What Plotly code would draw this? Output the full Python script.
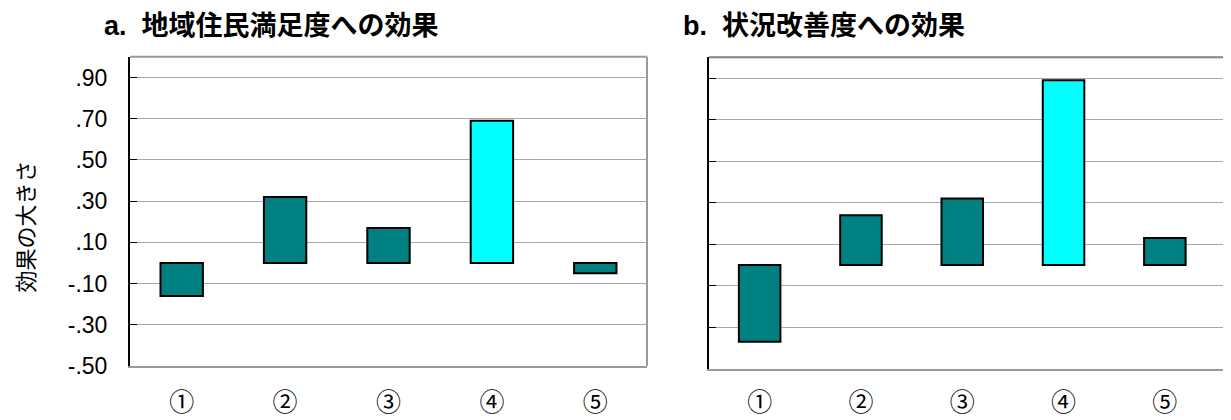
import plotly.graph_objects as go

categories = ["①", "②", "③", "④", "⑤"]
values_a = [-0.16, 0.32, 0.17, 0.69, -0.05]
values_b = [-0.37, 0.24, 0.32, 0.89, 0.13]
highlight = [False, False, False, True, False]
ytick_vals = [-0.5, -0.3, -0.1, 0.1, 0.3, 0.5, 0.7, 0.9]
ytick_text = ["-.50", "-.30", "-.10", ".10", ".30", ".50", ".70", ".90"]
title_a = "a.  地域住民満足度への効果"
title_b = "b.  状況改善度への効果"
y_title = "効果の大きさ"

TEAL = "#008080"
CYAN = "#00FFFF"
colors = [CYAN if h else TEAL for h in highlight]
xpos = list(range(len(categories)))

W, H = 1231, 420
OX = 8
OY, SY = 9.1, 0.966  # observed vertical mapping of the page


def px(x):
    return (x - OX) / W


def py(y):
    return 1 - ((y - OY) / SY) / H


dom_a_x = [px(130), px(647)]
dom_b_x = [px(709), 1.0]
dom_a_y = [py(366), py(57.8)]
dom_b_y = [py(368.7), py(58.3)]
yrange = [-0.5, 1.0]
xrange_a = [-0.5, len(categories) - 0.5]
xrange_b = [-0.5, -0.5 + (W - (709 - OX)) / 101.3]

fig = go.Figure()
fig.add_trace(go.Bar(x=xpos, y=values_a, marker=dict(color=colors, line=dict(color="black", width=2)),
                     xaxis="x", yaxis="y", showlegend=False))
fig.add_trace(go.Bar(x=xpos, y=values_b, marker=dict(color=colors, line=dict(color="black", width=2)),
                     xaxis="x2", yaxis="y2", showlegend=False))

tickfont = dict(family="Liberation Sans, Arial, sans-serif", size=23, color="black")
labfont = dict(family="Noto Sans CJK JP, sans-serif", size=25, color="black")


def zero_pos(dom):
    return dom[0] + (0 - yrange[0]) / (yrange[1] - yrange[0]) * (dom[1] - dom[0])


common_x = dict(tickmode="array", tickvals=xpos, ticktext=categories, tickfont=labfont,
                ticks="outside", tickcolor="rgba(0,0,0,0)",
                showgrid=False, zeroline=False, showline=True, linecolor="#9a9a9a", linewidth=2)
common_y = dict(range=yrange, tickmode="array", tickvals=ytick_vals, showgrid=True,
                gridcolor="#a8a8a8", gridwidth=1, zeroline=False, showline=True,
                linecolor="black", linewidth=2, ticks="inside", ticklen=7, tickcolor="black")

fig.update_layout(
    width=W, height=H, margin=dict(l=0, r=0, t=0, b=0),
    plot_bgcolor="white", paper_bgcolor="white", bargap=0.59,
    xaxis=dict(domain=dom_a_x, range=xrange_a, anchor="y", ticklen=13, **common_x),
    xaxis2=dict(domain=dom_b_x, range=xrange_b, anchor="y2", ticklen=10, **common_x),
    yaxis=dict(domain=dom_a_y, anchor="x", ticktext=ytick_text, tickfont=tickfont,
               ticklabelstandoff=16, **common_y),
    yaxis2=dict(domain=dom_b_y, anchor="x2", showticklabels=False, **common_y),
    xaxis3=dict(overlaying="x", anchor="free", position=zero_pos(dom_a_y), range=xrange_a,
                tickmode="array", tickvals=[i + 0.5 for i in range(len(categories))],
                showticklabels=False, ticks="inside", ticklen=8, tickcolor="black",
                showline=True, linecolor="black", linewidth=1.5, showgrid=False, zeroline=False),
    xaxis4=dict(overlaying="x2", anchor="free", position=zero_pos(dom_b_y), range=xrange_b,
                tickmode="array", tickvals=[i + 0.5 for i in range(len(categories) - 1)],
                showticklabels=False, ticks="inside", ticklen=8, tickcolor="#555",
                showline=True, linecolor="black", linewidth=1.5, showgrid=False, zeroline=False),
    shapes=[
        dict(type="line", xref="x domain", yref="y domain", x0=0, x1=1, y0=1, y1=1,
             line=dict(color="#9a9a9a", width=2)),
        dict(type="line", xref="x domain", yref="y domain", x0=1, x1=1, y0=0, y1=1,
             line=dict(color="#9a9a9a", width=2)),
        dict(type="line", xref="x2 domain", yref="y2 domain", x0=0, x1=1, y0=1, y1=1,
             line=dict(color="#808080", width=2)),
    ],
    annotations=[
        dict(text=f"<b>{title_a}</b>", x=px(102), y=py(27), xref="paper", yref="paper",
             xanchor="left", yanchor="middle", showarrow=False,
             font=dict(family="Liberation Sans, Noto Sans CJK JP, sans-serif", size=27, color="black")),
        dict(text=f"<b>{title_b}</b>", x=px(681), y=py(27), xref="paper", yref="paper",
             xanchor="left", yanchor="middle", showarrow=False,
             font=dict(family="Liberation Sans, Noto Sans CJK JP, sans-serif", size=27, color="black")),
        dict(text=y_title, x=px(24), y=py(227), xref="paper", yref="paper",
             xanchor="center", yanchor="middle", showarrow=False, textangle=-90, borderpad=0,
             font=dict(family="Noto Sans CJK JP, sans-serif", size=22, color="black")),
    ],
)

fig.write_html("out.html")
